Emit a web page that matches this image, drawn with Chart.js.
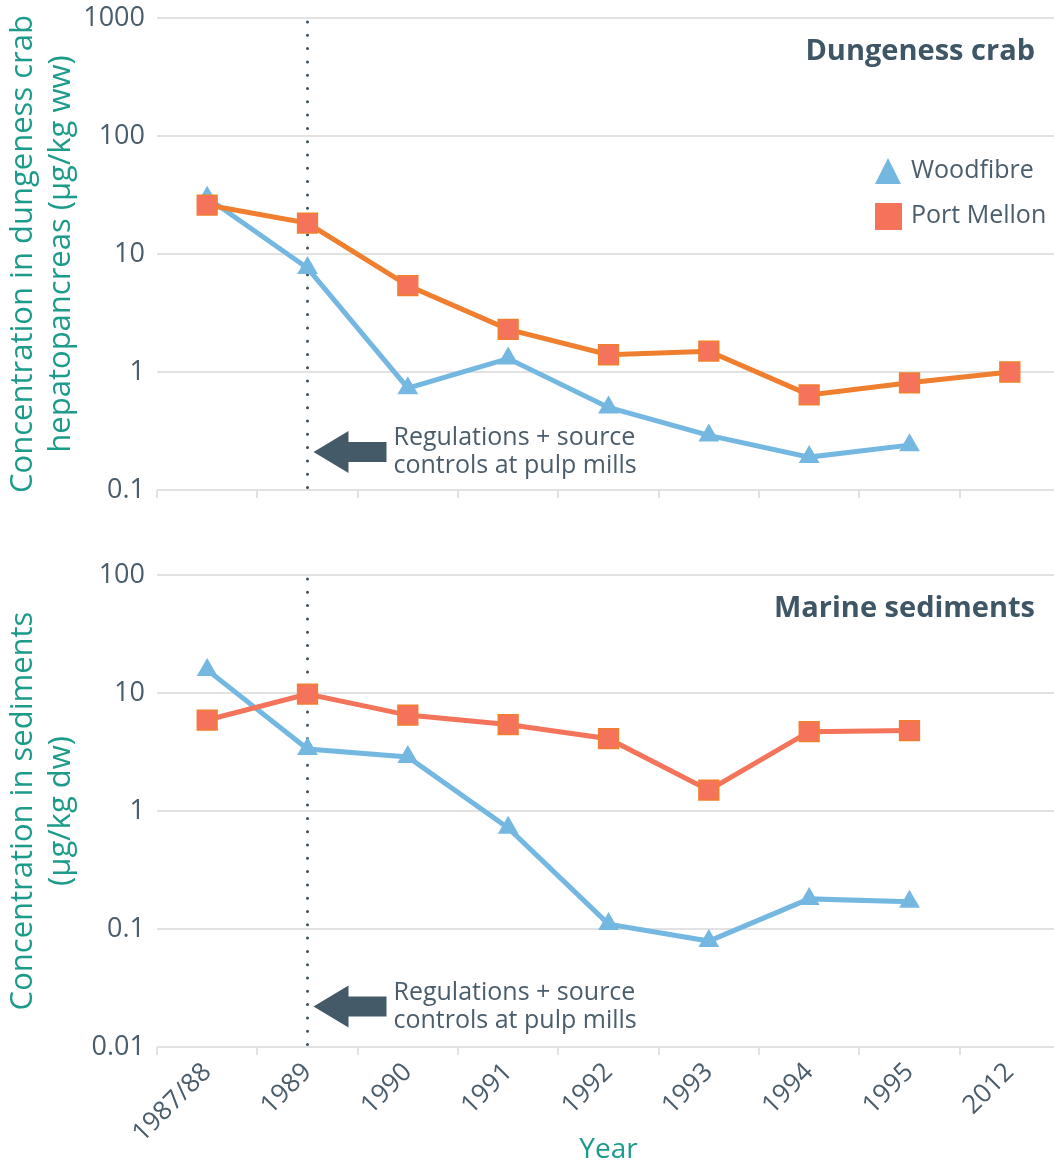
<!DOCTYPE html>
<html>
<head>
<meta charset="utf-8">
<script src="https://cdn.jsdelivr.net/npm/chart.js@4.4.1/dist/chart.umd.min.js"></script>
<style>
  body { margin: 0; background: #fff; overflow: hidden; }
  #top { position: absolute; left: 0; top: 0; }
  #bot { position: absolute; left: 0; top: 530px; }
</style>
</head>
<body>
<canvas id="top" width="1060" height="510"></canvas>
<canvas id="bot" width="1060" height="639"></canvas>
<script>
var years = ['1987/88', '1989', '1990', '1991', '1992', '1993', '1994', '1995', '2012'];

// dungeness crab hepatopancreas (ug/kg ww)
var crabWoodfibre = [30, 7.6, 0.73, 1.3, 0.5, 0.29, 0.19, 0.24, null];
var crabPortMellon = [26, 18.3, 5.4, 2.3, 1.4, 1.5, 0.64, 0.81, 1.0];

// marine sediments (ug/kg dw)
var sedWoodfibre = [15.7, 3.35, 2.87, 0.72, 0.11, 0.079, 0.18, 0.17, null];
var sedPortMellon = [5.9, 9.8, 6.5, 5.4, 4.1, 1.5, 4.7, 4.8, null];

var crabTicks = [0.1, 1, 10, 100, 1000];
var sedTicks = [0.01, 0.1, 1, 10, 100];

var FONT = "'Open Sans', sans-serif";
var TEXT = '#4a5d6b';
var TEAL = '#1d9b8a';
var BLUE = '#74b8e2';
var GRID = '#e2e2e2';

Chart.defaults.font.family = FONT;

function overlay(title, legend, arrowVal) {
  return {
    id: 'overlay',
    beforeDatasetsDraw: function(chart) {
      var ctx = chart.ctx, a = chart.chartArea;
      var x = chart.scales.x.getPixelForValue(1);
      ctx.save();
      ctx.strokeStyle = '#3d4f5c';
      ctx.lineWidth = 3;
      ctx.lineCap = 'round';
      ctx.setLineDash([0, 13.3]);
      ctx.beginPath();
      ctx.moveTo(x, a.top + 4);
      ctx.lineTo(x, a.bottom);
      ctx.stroke();
      ctx.restore();
    },
    afterDraw: function(chart) {
      var ctx = chart.ctx, a = chart.chartArea;
      ctx.save();
      // panel title
      ctx.fillStyle = '#3f5666';
      ctx.font = 'bold 29px ' + FONT;
      ctx.textAlign = 'right';
      ctx.textBaseline = 'middle';
      ctx.fillText(title, 1035, a.top + 34);

      // arrow + note
      var x = chart.scales.x.getPixelForValue(1) + 6;
      var y = chart.scales.y.getPixelForValue(arrowVal);
      ctx.fillStyle = '#455a68';
      ctx.beginPath();
      ctx.moveTo(x, y);
      ctx.lineTo(x + 35, y - 21);
      ctx.lineTo(x + 35, y - 10);
      ctx.lineTo(x + 73, y - 10);
      ctx.lineTo(x + 73, y + 10);
      ctx.lineTo(x + 35, y + 10);
      ctx.lineTo(x + 35, y + 21);
      ctx.closePath();
      ctx.fill();
      ctx.fillStyle = TEXT;
      ctx.font = '25px ' + FONT;
      ctx.textAlign = 'left';
      ctx.fillText('Regulations + source', x + 80, y - 14);
      ctx.fillText('controls at pulp mills', x + 80, y + 14);

      if (legend) {
        ctx.fillStyle = BLUE;
        ctx.beginPath();
        ctx.moveTo(888, 158);
        ctx.lineTo(901, 184);
        ctx.lineTo(875, 184);
        ctx.closePath();
        ctx.fill();
        ctx.fillStyle = '#f4735a';
        ctx.fillRect(875, 203, 27, 27);
        ctx.fillStyle = TEXT;
        ctx.font = '25px ' + FONT;
        ctx.fillText('Woodfibre', 911, 171);
        ctx.fillText('Port Mellon', 911, 216);
      }
      ctx.restore();
    }
  };
}

function makeChart(id, woodfibre, portMellon, pmLine, tickVals, yTitle, bottom, title, arrowVal) {
  return new Chart(document.getElementById(id), {
    type: 'line',
    data: {
      labels: years,
      datasets: [{
        label: 'Port Mellon',
        data: portMellon,
        borderColor: pmLine,
        borderWidth: 5,
        pointStyle: 'rect',
        pointRadius: 14,
        pointHoverRadius: 14,
        pointBackgroundColor: '#f4735a',
        pointBorderColor: '#f08030',
        pointBorderWidth: 1.5,
        tension: 0
      }, {
        label: 'Woodfibre',
        data: woodfibre,
        borderColor: BLUE,
        backgroundColor: BLUE,
        borderWidth: 5,
        pointStyle: 'triangle',
        pointRadius: 12,
        pointHoverRadius: 12,
        pointBackgroundColor: BLUE,
        pointBorderColor: BLUE,
        pointBorderWidth: 0,
        tension: 0
      }]
    },
    options: {
      responsive: false,
      animation: false,
      layout: { autoPadding: false, padding: { top: bottom ? 45 : 18, left: 0, right: 0, bottom: 0 } },
      plugins: { legend: { display: false }, tooltip: { enabled: false } },
      scales: {
        x: {
          type: 'category',
          offset: true,
          grid: { offset: true, drawOnChartArea: false, drawTicks: true, tickLength: 8, color: GRID, lineWidth: 2 },
          border: { display: false },
          ticks: bottom ? { display: true, autoSkip: false, minRotation: 45, maxRotation: 45, color: TEXT, font: { size: 26 }, padding: 2 } : { display: false },
          title: { display: bottom, text: 'Year', color: TEAL, font: { size: 28 }, padding: { top: 4, bottom: 2 } },
          afterFit: function(ax) {
            ax.height = bottom ? 122 : 20;
            ax.paddingLeft = 0;
            ax.paddingRight = 0;
          }
        },
        y: {
          type: 'logarithmic',
          min: tickVals[0],
          max: tickVals[tickVals.length - 1],
          afterBuildTicks: function(ax) {
            ax.ticks = tickVals.map(function(v) { return { value: v }; });
          },
          afterFit: function(ax) {
            ax.width = 157;
            ax.paddingTop = 0;
            ax.paddingBottom = 0;
          },
          ticks: {
            color: TEXT,
            font: { size: 27 },
            padding: 12,
            callback: function(v) { return String(v); }
          },
          grid: { color: GRID, lineWidth: 2, drawTicks: false },
          border: { display: false },
          title: { display: true, text: yTitle, color: TEAL, font: { size: 31 }, padding: { top: 5, bottom: 0 } }
        }
      }
    },
    plugins: [overlay(title, !bottom, arrowVal)]
  });
}

makeChart('top', crabWoodfibre, crabPortMellon, '#ef7f2f', crabTicks,
  ['Concentration in dungeness crab', 'hepatopancreas (µg/kg ww)'], false, 'Dungeness crab', 0.21);
makeChart('bot', sedWoodfibre, sedPortMellon, '#f3745a', sedTicks,
  ['Concentration in sediments', '(µg/kg dw)'], true, 'Marine sediments', 0.022);
</script>
</body>
</html>
